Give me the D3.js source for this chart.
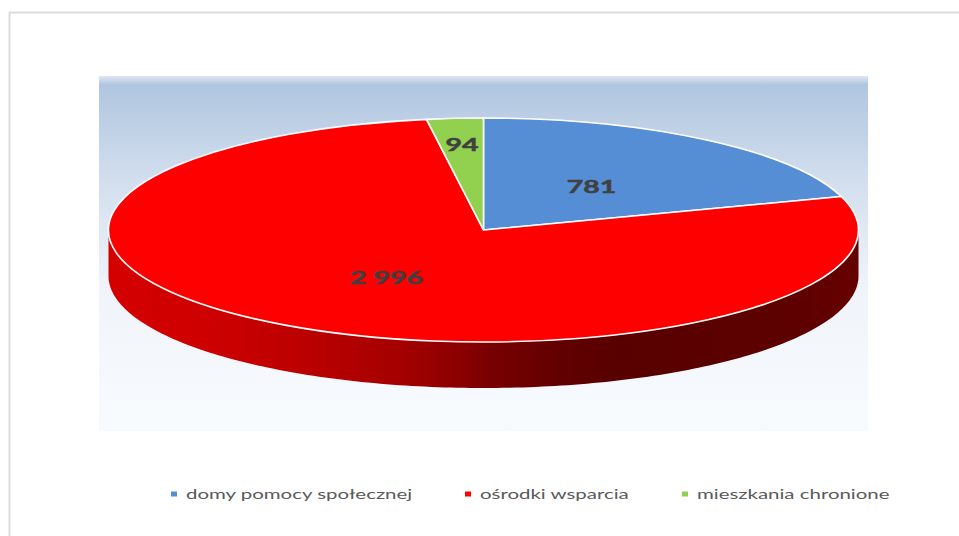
<!DOCTYPE html>
<html><head><meta charset="utf-8">
<script src="https://cdnjs.cloudflare.com/ajax/libs/d3/7.8.5/d3.min.js"></script>
<style>html,body{margin:0;padding:0;background:#fff}svg{display:block}</style></head>
<body><svg id="c" width="959" height="536"></svg>
<script>
const categories = ["domy pomocy społecznej", "ośrodki wsparcia", "mieszkania chronione"];
const values = [781, 2996, 94];
const valueLabels = ["781", "2 996", "94"];
const colors = ["#558ed5", "#ff0000", "#92d050"];

const W = 959, H = 536;
const cx = 483.5, cy = 230, rx = 375, ry = 112, depth = 46;
const svg = d3.select("#c");
const defs = svg.append("defs");

const bg = defs.append("linearGradient").attr("id","bg").attr("x1",0).attr("y1",0).attr("x2",0).attr("y2",1);
[[0,"#dfe7f1"],[0.025,"#b0c6e0"],[0.3,"#d3dfee"],[0.6,"#f0f4fa"],[1,"#f8fbfe"]].forEach(d=>bg.append("stop").attr("offset",d[0]).attr("stop-color",d[1]));

const wallGrad = defs.append("linearGradient").attr("id","wall").attr("gradientUnits","userSpaceOnUse")
  .attr("x1",cx-rx).attr("x2",cx+rx).attr("y1",0).attr("y2",0);
[[0,"#d40000"],[0.12,"#cf0000"],[0.255,"#bc0000"],[0.39,"#a50000"],[0.47,"#8a0000"],[0.51,"#780000"],[0.6,"#620000"],[0.68,"#580000"],[0.92,"#5e0000"],[1,"#660000"]].forEach(d=>wallGrad.append("stop").attr("offset",d[0]).attr("stop-color",d[1]));

// frame
svg.append("path").attr("d",`M9.5,${H}V12.5H${W}`).attr("fill","none").attr("stroke","#dcdcdc").attr("stroke-width",2);
svg.append("rect").attr("x",99).attr("y",76).attr("width",769).attr("height",355).attr("fill","url(#bg)");

const pie = d3.pie().sort(null).value(d=>d);
const arcs = pie(values);
const px = d3.scaleLinear().domain([-1,1]).range([cx-rx,cx+rx]);
const py = d3.scaleLinear().domain([-1,1]).range([cy-ry,cy+ry]);

// side wall
const sweep = d3.range(90,271,1).map(a=>a*Math.PI/180);
const rim = sweep.map(a=>[px(Math.sin(a)),py(-Math.cos(a))]);
const wallPts = rim.map(p=>[p[0],p[1]+depth]).concat(rim.slice().reverse());
svg.append("path").attr("d",d3.line()(wallPts)+"Z").attr("fill","url(#wall)");

// top face
const arc = d3.arc().innerRadius(0).outerRadius(1);
const face = svg.append("g").attr("transform",`translate(${cx},${cy}) scale(${rx},${ry})`);
face.selectAll("path").data(arcs).join("path")
  .attr("d",arc).attr("fill",(d,i)=>colors[i])
  .attr("stroke","#fff").attr("stroke-width",1.6)
  .attr("vector-effect","non-scaling-stroke").attr("stroke-linejoin","round");

// data labels
const labelPos = [[591.5,186],[386.5,277],[462,144]];
const txt = svg.append("g");
function wide(sel,sx){return sel.attr("transform",d=>`translate(${d.x},${d.y}) scale(${sx},1)`);}
wide(txt.selectAll("text").data(valueLabels.map((t,i)=>({t,x:labelPos[i][0],y:labelPos[i][1]}))).join("text")
  .attr("text-anchor","middle").attr("dominant-baseline","central")
  .attr("font-family","Lato, 'Open Sans', sans-serif").attr("font-weight",700).attr("font-size",18)
  .attr("fill","#404040").attr("stroke","#404040").attr("stroke-width",0.5).text(d=>d.t),1.58);

// legend
const legX = [171,465,682], textX=[186,480,697], legY=494;
const lg = svg.append("g").selectAll("g").data(categories).join("g");
lg.append("rect").attr("x",(d,i)=>legX[i]).attr("y",legY-2.5).attr("width",6).attr("height",5).attr("fill",(d,i)=>colors[i]);
lg.append("text").attr("transform",(d,i)=>`translate(${textX[i]},${legY}) scale(1.46,1)`)
  .attr("dominant-baseline","central").attr("font-family","Lato, 'Open Sans', sans-serif")
  .attr("font-size",14).attr("fill","#595959").text(d=>d);
</script></body></html>
